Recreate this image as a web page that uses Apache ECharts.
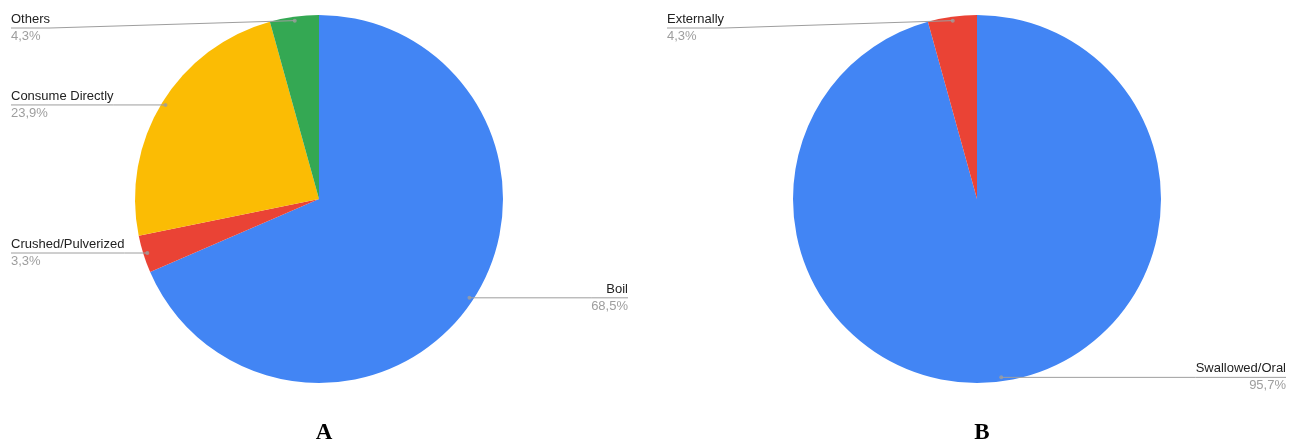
<!DOCTYPE html>
<html>
<head>
<meta charset="utf-8">
<script src="https://cdn.jsdelivr.net/npm/echarts@6/dist/echarts.min.js"></script>
<style>
  html, body { margin: 0; padding: 0; background: #fff; }
  #chart { width: 1295px; height: 443px; }
</style>
</head>
<body>
<div id="chart"></div>
<script>
// Preparation method (A)
const categoriesA = ['Boil', 'Crushed/Pulverized', 'Consume Directly', 'Others'];
const valuesA = [68.5, 3.3, 23.9, 4.3];
// Route of administration (B)
const categoriesB = ['Swallowed/Oral', 'Externally'];
const valuesB = [95.7, 4.3];
const panelTitles = ['A', 'B'];

const paletteA = ['#4285F4', '#EA4335', '#FBBC04', '#34A853'];
const paletteB = ['#4285F4', '#EA4335'];

const R = 184;          // pie radius
const R_LABEL = 180;    // leader lines start just inside the slice edge
const CY = 199;
const LINE_GRAY = '#9e9e9e';

const fmtPct = v => v.toFixed(1).replace('.', ',') + '%';

function toData(cats, vals, colors) {
  return cats.map((c, i) => ({ name: c, value: vals[i], itemStyle: colors ? { color: colors[i] } : undefined }));
}

// midpoint of each slice as a percentage of the full turn, for leader-line dots
function midPoints(vals) {
  const total = vals.reduce((a, b) => a + b, 0);
  let acc = 0;
  return vals.map(v => {
    const mid = (acc + v / 2) / total * 100;
    acc += v;
    return [R_LABEL, mid];
  });
}

const FONT = 'Liberation Sans, Arial, sans-serif';
const labelCfg = {
  show: true,
  position: 'outer',
  alignTo: 'edge',
  edgeDistance: 11,
  formatter: p => '{n|' + p.name + '}\n{p|' + fmtPct(p.value) + '}',
  rich: {
    n: { fontFamily: FONT, fontSize: 13, color: '#222', lineHeight: 17 },
    p: { fontFamily: FONT, fontSize: 13, color: '#9e9e9e', lineHeight: 17 }
  }
};
const labelLineCfg = { show: true, length: 1, length2: 10, smooth: false, lineStyle: { color: LINE_GRAY, width: 1 } };

// Leader line runs from the dot in the slice, under the category name, to the label's outer edge.
// Labels stay level with their dot but are kept inside the drawing area.
function leaderLayout(params) {
  const r = params.labelRect;
  const start = params.labelLinePoints ? params.labelLinePoints[0] : [r.x, r.y + r.height / 2];
  const half = r.height / 2;
  const midY = Math.min(Math.max(start[1], 13 + half), 399 - half);
  const onLeft = start[0] > r.x + r.width / 2;
  const near = onLeft ? r.x + r.width : r.x;
  const far = onLeft ? r.x : r.x + r.width;
  return {
    x: far,
    y: midY,
    align: onLeft ? 'left' : 'right',
    verticalAlign: 'middle',
    labelLinePoints: [start, [near, midY], [far, midY]]
  };
}

function panel(boxLeft, boxWidth, cx, cats, vals, colors) {
  const box = { left: boxLeft, top: 0, width: boxWidth, height: 443 };
  return [
    Object.assign({
      type: 'pie', center: [cx, CY], radius: R, startAngle: 90, clockwise: true,
      data: toData(cats, vals, colors), label: { show: false }, labelLine: { show: false },
      silent: true, emphasis: { disabled: true }
    }, box),
    Object.assign({
      type: 'pie', center: [cx, CY], radius: R_LABEL, startAngle: 90, clockwise: true,
      data: toData(cats, vals, null),
      itemStyle: { color: 'rgba(0,0,0,0)' },
      label: labelCfg, labelLine: labelLineCfg, labelLayout: leaderLayout,
      avoidLabelOverlap: false,
      silent: true, emphasis: { disabled: true }, z: 3
    }, box)
  ];
}

const chart = echarts.init(document.getElementById('chart'), null, { renderer: 'canvas' });

const hiddenAxis = { show: false };
const titleStyle = { fontFamily: 'Liberation Serif, Times New Roman, serif', fontWeight: 'bold', fontSize: 23, color: '#000' };
chart.setOption({
  animation: false,
  backgroundColor: '#fff',
  title: [
    { text: panelTitles[0], left: 319, top: 417, textAlign: 'center', textStyle: titleStyle },
    { text: panelTitles[1], left: 977, top: 417, textAlign: 'center', textStyle: titleStyle }
  ],
  polar: [
    { center: [319, CY], radius: R },
    { center: [977, CY], radius: R }
  ],
  radiusAxis: [
    Object.assign({ polarIndex: 0, type: 'value', min: 0, max: R }, hiddenAxis),
    Object.assign({ polarIndex: 1, type: 'value', min: 0, max: R }, hiddenAxis)
  ],
  angleAxis: [
    Object.assign({ polarIndex: 0, type: 'value', min: 0, max: 100, startAngle: 90, clockwise: true }, hiddenAxis),
    Object.assign({ polarIndex: 1, type: 'value', min: 0, max: 100, startAngle: 90, clockwise: true }, hiddenAxis)
  ],
  series: [
    ...panel(0, 639, 319, categoriesA, valuesA, paletteA),
    ...panel(656, 641, 321, categoriesB, valuesB, paletteB),
    { type: 'scatter', coordinateSystem: 'polar', polarIndex: 0, data: midPoints(valuesA),
      symbolSize: 4, itemStyle: { color: LINE_GRAY }, silent: true, z: 4 },
    { type: 'scatter', coordinateSystem: 'polar', polarIndex: 1, data: midPoints(valuesB),
      symbolSize: 4, itemStyle: { color: LINE_GRAY }, silent: true, z: 4 }
  ]
});
</script>
</body>
</html>
